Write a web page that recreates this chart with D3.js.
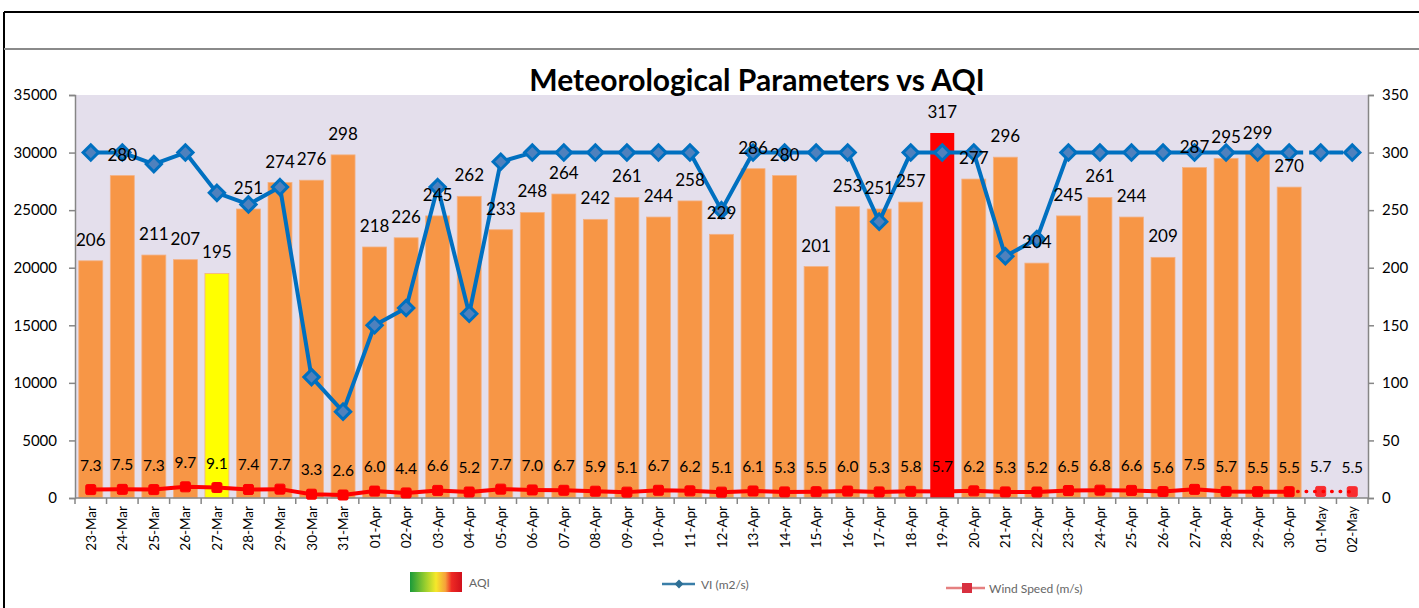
<!DOCTYPE html>
<html>
<head>
  <meta charset="utf-8">
  <title>Meteorological Parameters vs AQI</title>
  <script src="https://cdn.jsdelivr.net/npm/d3@7"></script>
  <style>
    body { margin: 0; background: #fff; }
    svg text { font-family: Lato, "Open Sans", sans-serif; }
  </style>
</head>
<body>
<script>
// Datoer (kategorier)
const dates = ["23-Mar","24-Mar","25-Mar","26-Mar","27-Mar","28-Mar","29-Mar","30-Mar","31-Mar",
  "01-Apr","02-Apr","03-Apr","04-Apr","05-Apr","06-Apr","07-Apr","08-Apr","09-Apr","10-Apr",
  "11-Apr","12-Apr","13-Apr","14-Apr","15-Apr","16-Apr","17-Apr","18-Apr","19-Apr","20-Apr",
  "21-Apr","22-Apr","23-Apr","24-Apr","25-Apr","26-Apr","27-Apr","28-Apr","29-Apr","30-Apr",
  "01-May","02-May"];

// AQI (højre akse), ingen værdi for maj
const aqi = [206,280,211,207,195,251,274,276,298,
  218,226,245,262,233,248,264,242,261,244,258,229,286,280,201,253,251,257,317,277,296,
  204,245,261,244,209,287,295,299,270, null, null];

// VI (m2/s) (venstre akse)
const vi = [30000,30000,29000,30000,26500,25500,27000,10500,7500,
  15000,16500,27000,16000,29200,30000,30000,30000,30000,30000,30000,25000,30000,30000,30000,30000,24000,30000,30000,30000,
  21000,22500,30000,30000,30000,30000,30000,30000,30000,30000,30000,30000];

// Vindhastighed (m/s) (højre akse)
const wind = [7.3,7.5,7.3,9.7,9.1,7.4,7.7,3.3,2.6,
  6.0,4.4,6.6,5.2,7.7,7.0,6.7,5.9,5.1,6.7,6.2,5.1,6.1,5.3,5.5,6.0,5.3,5.8,5.7,6.2,
  5.3,5.2,6.5,6.8,6.6,5.6,7.5,5.7,5.5,5.5,5.7,5.5];

// Ticks
const leftTicks = [0,5000,10000,15000,20000,25000,30000,35000];
const rightTicks = [0,50,100,150,200,250,300,350];

// antal observerede dage (resten er prognose, stiplet)
const observed = 39;

const W = 1419, H = 608;
const plot = { left: 75, right: 1368, top: 95, bottom: 498 };

const svg = d3.select("body").append("svg")
  .attr("width", W).attr("height", H);

// ramme
svg.append("line").attr("x1", 4).attr("x2", W).attr("y1", 12).attr("y2", 12)
  .attr("stroke", "#000").attr("stroke-width", 2);
svg.append("line").attr("x1", 4).attr("x2", 4).attr("y1", 12).attr("y2", H)
  .attr("stroke", "#000").attr("stroke-width", 2);
svg.append("line").attr("x1", 4).attr("x2", W).attr("y1", 49).attr("y2", 49)
  .attr("stroke", "#8a8a8a").attr("stroke-width", 2);

// Skalering
const x = d3.scaleBand().domain(dates).range([plot.left, plot.right]).paddingInner(0.24).paddingOuter(0.12);
const xc = d => x(d) + x.bandwidth() / 2;
const yL = d3.scaleLinear().domain([0, 35000]).range([plot.bottom, plot.top]);
const yR = d3.scaleLinear().domain([0, 350]).range([plot.bottom, plot.top]);

// baggrund
svg.append("rect").attr("x", plot.left).attr("y", plot.top)
  .attr("width", plot.right - plot.left).attr("height", plot.bottom - plot.top)
  .attr("fill", "#e4dfec");

// titel
svg.append("text").attr("x", 757).attr("y", 91).attr("text-anchor", "middle")
  .style("font-size", "30px").style("font-weight", "bold").attr("fill", "#000")
  .text("Meteorological Parameters vs AQI");

// AQI farve efter kategori
function aqiColor(v) {
  if (v <= 200) return "#ffff00";
  if (v <= 300) return "#f79646";
  return "#ff0000";
}

const rows = dates.map((d, i) => ({ date: d, aqi: aqi[i], vi: vi[i], wind: wind[i], i: i }));

// søjler
svg.selectAll("rect.bar")
  .data(rows.filter(d => d.aqi != null))
  .enter().append("rect")
  .attr("class", "bar")
  .attr("x", d => x(d.date))
  .attr("y", d => yR(d.aqi))
  .attr("width", x.bandwidth())
  .attr("height", d => plot.bottom - yR(d.aqi))
  .attr("fill", d => aqiColor(d.aqi))
  .attr("stroke", d => d.aqi > 300 ? "none" : "#f4b183")
  .attr("stroke-width", 0.8);

// akser
const axisColor = "#868686";
const gL = svg.append("g").attr("transform", "translate(" + plot.left + ",0)")
  .call(d3.axisLeft(yL).tickValues(leftTicks).tickSize(6).tickPadding(12).tickFormat(d3.format("d")));
const gR = svg.append("g").attr("transform", "translate(" + plot.right + ",0)")
  .call(d3.axisRight(yR).tickValues(rightTicks).tickSize(6).tickPadding(8).tickFormat(d3.format("d")));
[gL, gR].forEach(g => {
  g.select(".domain").attr("stroke", axisColor).attr("stroke-width", 1.5);
  g.selectAll(".tick line").attr("stroke", axisColor).attr("stroke-width", 1.5);
  g.selectAll(".tick text").attr("fill", "#000").style("font-size", "15px")
    .style("font-family", "Lato, 'Open Sans', sans-serif");
});

// x-akse
svg.append("line").attr("x1", plot.left).attr("x2", plot.right)
  .attr("y1", plot.bottom).attr("y2", plot.bottom)
  .attr("stroke", axisColor).attr("stroke-width", 1.5);
svg.selectAll("line.xtick")
  .data(d3.range(dates.length + 1))
  .enter().append("line").attr("class", "xtick")
  .attr("x1", i => plot.left + (plot.right - plot.left) * i / dates.length)
  .attr("x2", i => plot.left + (plot.right - plot.left) * i / dates.length)
  .attr("y1", plot.bottom).attr("y2", plot.bottom + 6)
  .attr("stroke", axisColor).attr("stroke-width", 1.5);
svg.selectAll("text.xlab")
  .data(dates)
  .enter().append("text").attr("class", "xlab")
  .attr("transform", d => "translate(" + (xc(d) + 5) + "," + (plot.bottom + 8) + ") rotate(-90)")
  .attr("text-anchor", "end")
  .style("font-size", "13.5px").attr("fill", "#000")
  .text(d => d);

// VI linje
const blue = "#0070c0";
const viLine = d3.line().x(d => xc(d.date)).y(d => yL(d.vi));
svg.append("path").datum(rows.slice(0, observed))
  .attr("d", viLine).attr("fill", "none").attr("stroke", blue).attr("stroke-width", 4)
  .attr("stroke-linejoin", "round");
svg.append("path").datum(rows.slice(observed - 1))
  .attr("d", viLine).attr("fill", "none").attr("stroke", blue).attr("stroke-width", 4)
  .attr("stroke-dasharray", "14,6");

const diamond = d3.symbol().type(d3.symbolDiamond2 || d3.symbolDiamond).size(150);
svg.selectAll("path.vimark")
  .data(rows)
  .enter().append("path").attr("class", "vimark")
  .attr("d", diamond)
  .attr("transform", d => "translate(" + xc(d.date) + "," + yL(d.vi) + ")")
  .attr("fill", "#4f81bd").attr("stroke", blue).attr("stroke-width", 3);

// Vindhastighed linje
const red = "#ff0000";
const windLine = d3.line().x(d => xc(d.date)).y(d => yR(d.wind));
svg.append("path").datum(rows.slice(0, observed))
  .attr("d", windLine).attr("fill", "none").attr("stroke", red).attr("stroke-width", 4)
  .attr("stroke-linejoin", "round");
svg.append("path").datum(rows.slice(observed - 1))
  .attr("d", windLine).attr("fill", "none").attr("stroke", red).attr("stroke-width", 3.5)
  .attr("stroke-dasharray", "0.5,8").attr("stroke-linecap", "round");
svg.selectAll("rect.wmark")
  .data(rows)
  .enter().append("rect").attr("class", "wmark")
  .attr("x", d => xc(d.date) - 5).attr("y", d => yR(d.wind) - 5)
  .attr("width", 10).attr("height", 10).attr("rx", 1.5)
  .attr("fill", red).attr("stroke", red)
  .attr("opacity", d => d.i >= observed ? 0.8 : 1);

// datalabels
svg.selectAll("text.aqilab")
  .data(rows.filter(d => d.aqi != null))
  .enter().append("text").attr("class", "aqilab")
  .attr("x", d => xc(d.date)).attr("y", d => yR(d.aqi) - 15)
  .attr("text-anchor", "middle").style("font-size", "17px").attr("fill", "#000")
  .text(d => d.aqi);
svg.selectAll("text.wlab")
  .data(rows)
  .enter().append("text").attr("class", "wlab")
  .attr("x", d => xc(d.date)).attr("y", d => yR(d.wind) - 19)
  .attr("text-anchor", "middle").style("font-size", "15.5px").attr("fill", "#000")
  .text(d => d3.format(".1f")(d.wind));

// legende
const lg = svg.append("g");
const grad = svg.append("defs").append("linearGradient").attr("id", "aqigrad");
[["0%", "#1a9a3a"], ["30%", "#9ccf2e"], ["50%", "#f5e82a"], ["68%", "#f6a13a"], ["80%", "#ee2a24"], ["100%", "#d0101c"]]
  .forEach(s => grad.append("stop").attr("offset", s[0]).attr("stop-color", s[1]));
lg.append("rect").attr("x", 410).attr("y", 572).attr("width", 52).attr("height", 20)
  .attr("fill", "url(#aqigrad)");
lg.append("text").attr("x", 469).attr("y", 587).style("font-size", "12px").attr("fill", "#666").text("AQI");

lg.append("line").attr("x1", 662).attr("x2", 695).attr("y1", 584).attr("y2", 584)
  .attr("stroke", "#3a7ea8").attr("stroke-width", 2.5);
lg.append("path").attr("d", d3.symbol().type(d3.symbolDiamond2 || d3.symbolDiamond).size(50))
  .attr("transform", "translate(679,584)").attr("fill", "#2e6f95");
lg.append("text").attr("x", 701).attr("y", 589).style("font-size", "12px").attr("fill", "#666").text("VI (m2/s)");

lg.append("line").attr("x1", 946).attr("x2", 985).attr("y1", 588).attr("y2", 588)
  .attr("stroke", "#e58080").attr("stroke-width", 2.5);
lg.append("rect").attr("x", 962).attr("y", 583).attr("width", 10).attr("height", 10)
  .attr("fill", "#d83040");
lg.append("text").attr("x", 989).attr("y", 593).style("font-size", "12px").attr("fill", "#666").text("Wind Speed (m/s)");
</script>
</body>
</html>
